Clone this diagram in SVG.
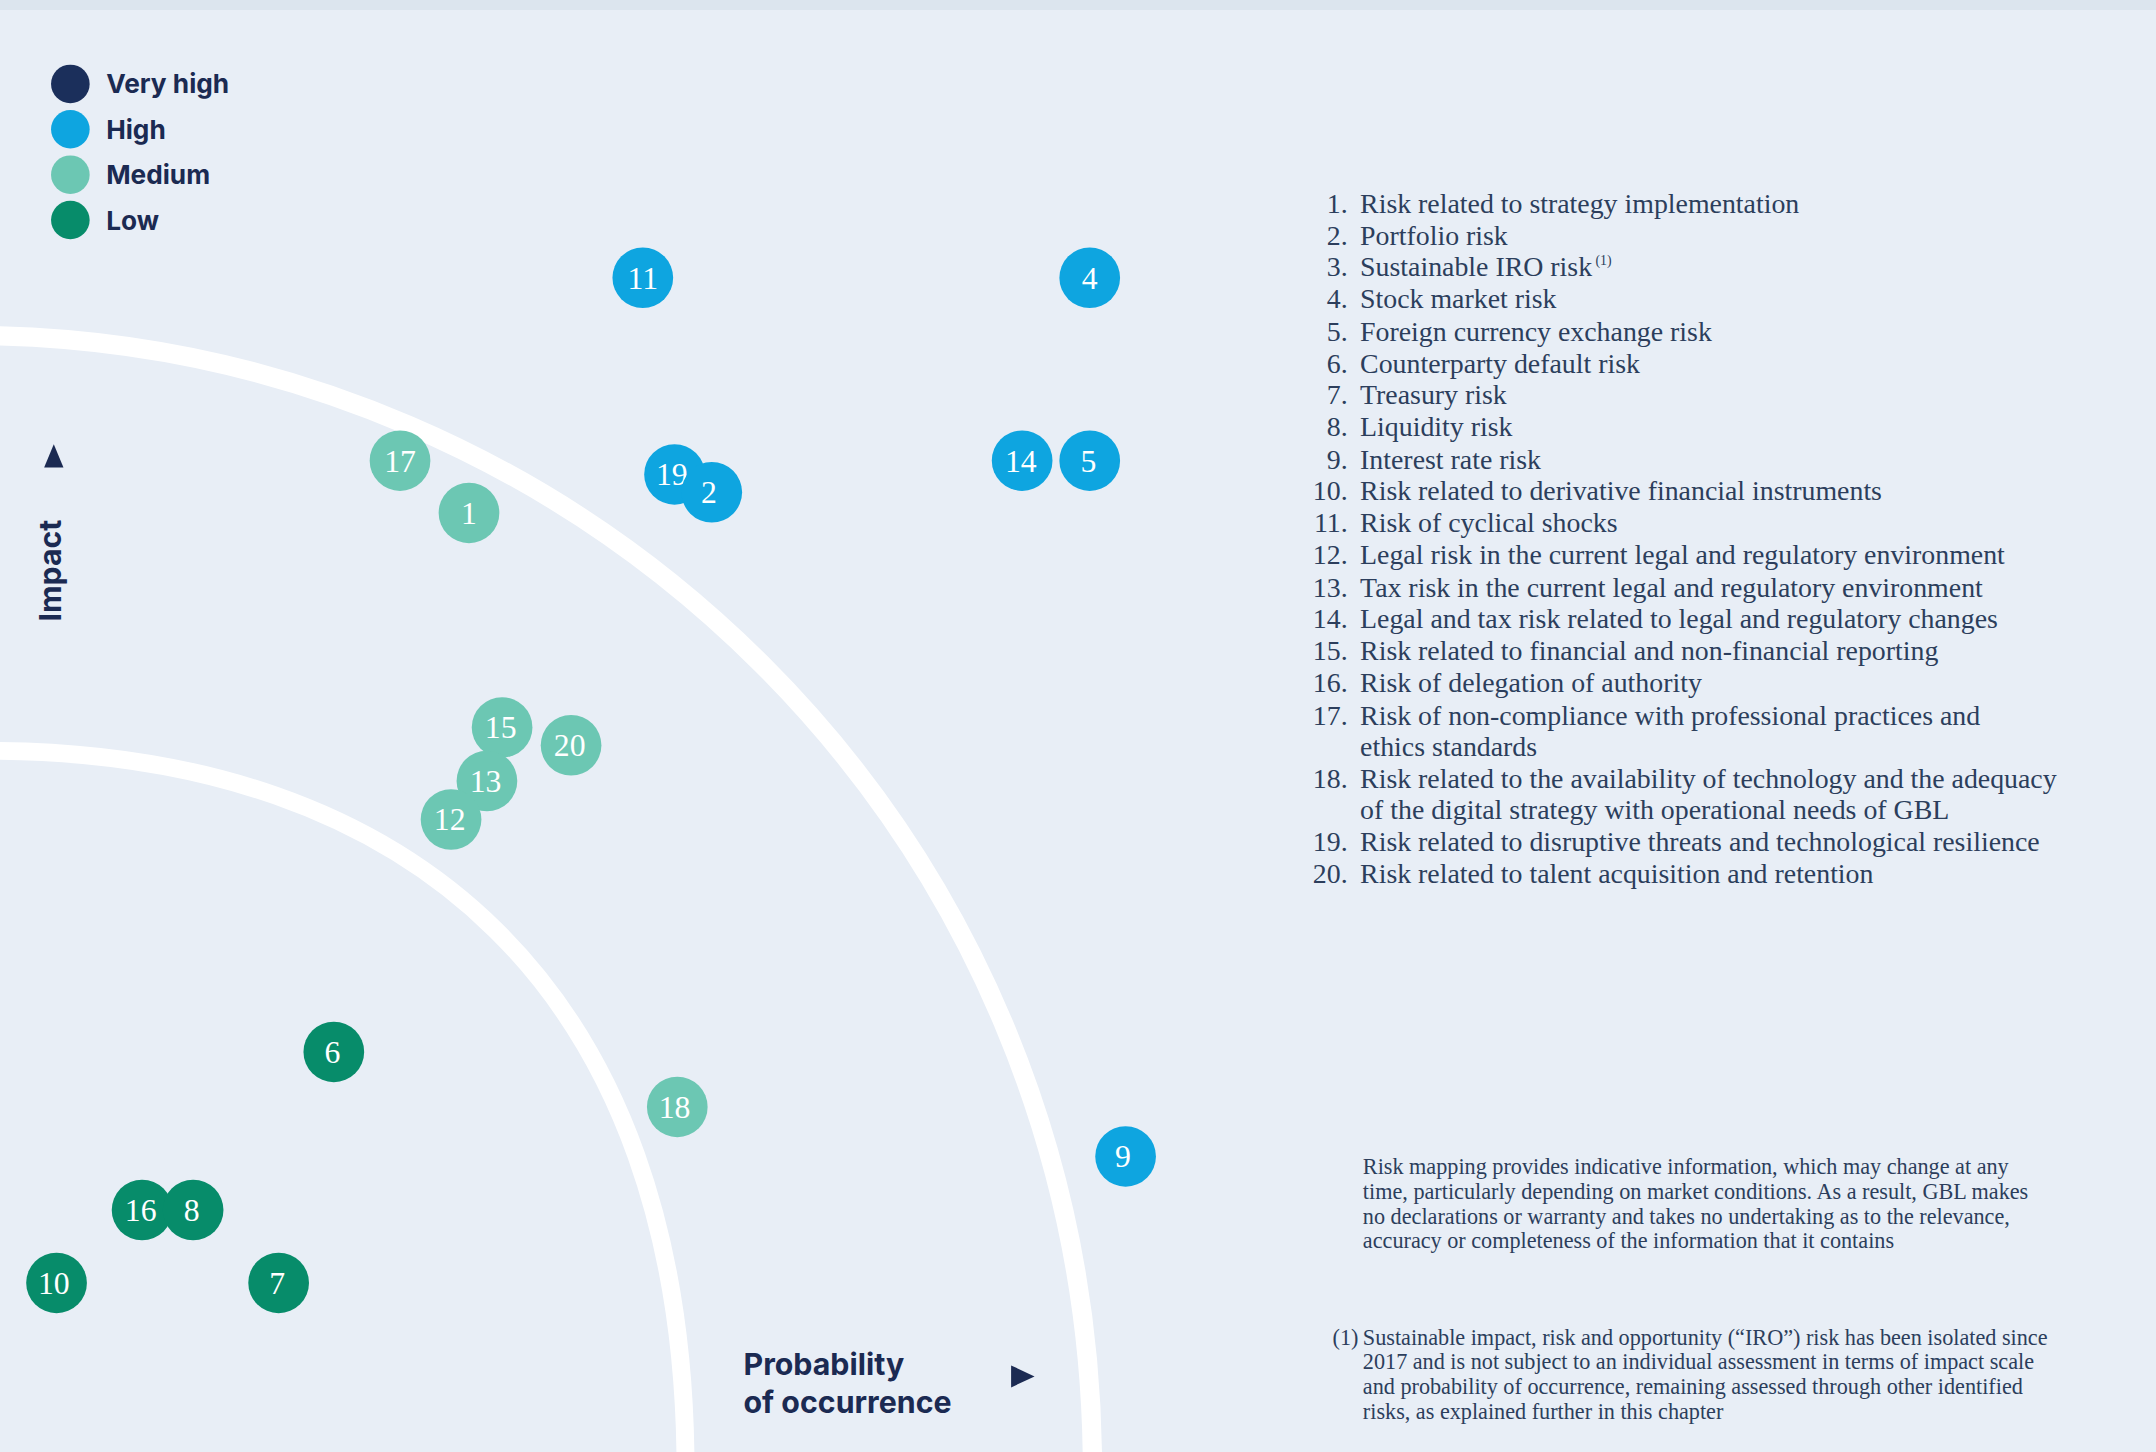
<svg xmlns="http://www.w3.org/2000/svg" width="2156" height="1452" viewBox="0 0 2156 1452">
<style>
.s{font-family:"Inter","Liberation Sans",sans-serif;font-weight:700;fill:#1b2a52}
.n{font-family:"Liberation Serif",serif;font-size:23px;fill:#fff;text-anchor:middle}
.l{font-family:"Liberation Serif",serif;font-size:20.2px;fill:#2c3e5c}
.r{text-anchor:end}
.d{font-family:"Liberation Serif",serif;font-size:16.1px;fill:#2c3e5c}
.vh{fill:#1b2f5b}.h{fill:#0ea5e0}.m{fill:#6cc7b3}.lo{fill:#078c6a}
.arc{fill:none;stroke:#fff}
</style>
<rect width="2156" height="1452" fill="#e8eef6"/>
<rect width="2156" height="10" fill="#dce5ee"/>
<g transform="scale(1.3794,1.375)">
<g id="arcs">
<path class="arc" stroke-width="14" d="M -10,244 C 420,250 792,600 792,1070"/>
<path class="arc" stroke-width="13" d="M -10,546 C 300,546 497,720 497,1070"/>
</g>
<g id="legend">
<circle class="vh" cx="51" cy="61" r="14"/><text class="s" x="77" y="68" font-size="19">Very high</text>
<circle class="h" cx="51" cy="94" r="14"/><text class="s" x="77" y="101" font-size="19">High</text>
<circle class="m" cx="51" cy="127" r="14"/><text class="s" x="77" y="134" font-size="19">Medium</text>
<circle class="lo" cx="51" cy="160" r="14"/><text class="s" x="77" y="167" font-size="19">Low</text>
</g>
<g id="axes">
<path d="M39,323 L46,340 L32,340 Z" fill="#1b2a52"/>
<text class="s" font-size="22" transform="translate(44,452) rotate(-90)">Impact</text>
<text class="s" font-size="22" x="539" y="1000">Probability</text>
<text class="s" font-size="22" x="539" y="1028">of occurrence</text>
<path d="M733,993 L750,1001 L733,1009 Z" fill="#1b2a52"/>
</g>
<g id="n11"><circle class="h" cx="466" cy="202" r="22"/><text class="n" x="466" y="210">11</text></g>
<g id="n4"><circle class="h" cx="790" cy="202" r="22"/><text class="n" x="790" y="210">4</text></g>
<g id="n17"><circle class="m" cx="290" cy="335" r="22"/><text class="n" x="290" y="343">17</text></g>
<g id="n1"><circle class="m" cx="340" cy="373" r="22"/><text class="n" x="340" y="381">1</text></g>
<g id="n19"><circle class="h" cx="489" cy="345" r="22"/><text class="n" x="487" y="353">19</text></g>
<g id="n2"><circle class="h" cx="516" cy="358" r="22"/><text class="n" x="514" y="366">2</text></g>
<g id="n14"><circle class="h" cx="741" cy="335" r="22"/><text class="n" x="740" y="343">14</text></g>
<g id="n5"><circle class="h" cx="790" cy="335" r="22"/><text class="n" x="789" y="343">5</text></g>
<g id="n20"><circle class="m" cx="414" cy="542" r="22"/><text class="n" x="413" y="550">20</text></g>
<g id="n15"><circle class="m" cx="364" cy="529" r="22"/><text class="n" x="363" y="537">15</text></g>
<g id="n13"><circle class="m" cx="353" cy="568" r="22"/><text class="n" x="352" y="576">13</text></g>
<g id="n12"><circle class="m" cx="327" cy="596" r="22"/><text class="n" x="326" y="604">12</text></g>
<g id="n6"><circle class="lo" cx="242" cy="765" r="22"/><text class="n" x="241" y="773">6</text></g>
<g id="n18"><circle class="m" cx="491" cy="805" r="22"/><text class="n" x="489" y="813">18</text></g>
<g id="n9"><circle class="h" cx="816" cy="841" r="22"/><text class="n" x="814" y="849">9</text></g>
<g id="n16"><circle class="lo" cx="103" cy="880" r="22"/><text class="n" x="102" y="888">16</text></g>
<g id="n8"><circle class="lo" cx="140" cy="880" r="22"/><text class="n" x="139" y="888">8</text></g>
<g id="n10"><circle class="lo" cx="41" cy="933" r="22"/><text class="n" x="39" y="941">10</text></g>
<g id="n7"><circle class="lo" cx="202" cy="933" r="22"/><text class="n" x="201" y="941">7</text></g>
<g id="list">
<text class="l r" x="977" y="155">1.</text><text class="l" x="986" y="155">Risk related to strategy implementation</text>
<text class="l r" x="977" y="178">2.</text><text class="l" x="986" y="178">Portfolio risk</text>
<text class="l r" x="977" y="201">3.</text><text class="l" x="986" y="201">Sustainable IRO risk<tspan font-size="10" dy="-8"> (1)</tspan></text>
<text class="l r" x="977" y="224">4.</text><text class="l" x="986" y="224">Stock market risk</text>
<text class="l r" x="977" y="248">5.</text><text class="l" x="986" y="248">Foreign currency exchange risk</text>
<text class="l r" x="977" y="271">6.</text><text class="l" x="986" y="271">Counterparty default risk</text>
<text class="l r" x="977" y="294">7.</text><text class="l" x="986" y="294">Treasury risk</text>
<text class="l r" x="977" y="317">8.</text><text class="l" x="986" y="317">Liquidity risk</text>
<text class="l r" x="977" y="341">9.</text><text class="l" x="986" y="341">Interest rate risk</text>
<text class="l r" x="977" y="364">10.</text><text class="l" x="986" y="364">Risk related to derivative financial instruments</text>
<text class="l r" x="977" y="387">11.</text><text class="l" x="986" y="387">Risk of cyclical shocks</text>
<text class="l r" x="977" y="410">12.</text><text class="l" x="986" y="410">Legal risk in the current legal and regulatory environment</text>
<text class="l r" x="977" y="434">13.</text><text class="l" x="986" y="434">Tax risk in the current legal and regulatory environment</text>
<text class="l r" x="977" y="457">14.</text><text class="l" x="986" y="457">Legal and tax risk related to legal and regulatory changes</text>
<text class="l r" x="977" y="480">15.</text><text class="l" x="986" y="480">Risk related to financial and non-financial reporting</text>
<text class="l r" x="977" y="503">16.</text><text class="l" x="986" y="503">Risk of delegation of authority</text>
<text class="l r" x="977" y="527">17.</text><text class="l" x="986" y="527">Risk of non-compliance with professional practices and</text>
<text class="l" x="986" y="550">ethics standards</text>
<text class="l r" x="977" y="573">18.</text><text class="l" x="986" y="573">Risk related to the availability of technology and the adequacy</text>
<text class="l" x="986" y="596">of the digital strategy with operational needs of GBL</text>
<text class="l r" x="977" y="619">19.</text><text class="l" x="986" y="619">Risk related to disruptive threats and technological resilience</text>
<text class="l r" x="977" y="642">20.</text><text class="l" x="986" y="642">Risk related to talent acquisition and retention</text>
</g>
<g id="notes">
<text class="d" x="988" y="854">Risk mapping provides indicative information, which may change at any</text>
<text class="d" x="988" y="872">time, particularly depending on market conditions. As a result, GBL makes</text>
<text class="d" x="988" y="890">no declarations or warranty and takes no undertaking as to the relevance,</text>
<text class="d" x="988" y="908">accuracy or completeness of the information that it contains</text>
<text class="d" x="966" y="978">(1)</text>
<text class="d" x="988" y="978">Sustainable impact, risk and opportunity (“IRO”) risk has been isolated since</text>
<text class="d" x="988" y="996">2017 and is not subject to an individual assessment in terms of impact scale</text>
<text class="d" x="988" y="1014">and probability of occurrence, remaining assessed through other identified</text>
<text class="d" x="988" y="1032">risks, as explained further in this chapter</text>
</g>
</g>
</svg>
